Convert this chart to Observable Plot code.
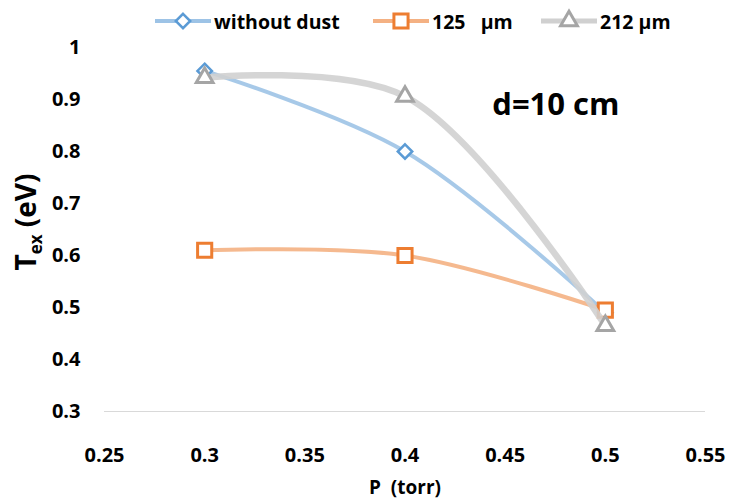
<!DOCTYPE html>
<html><head><meta charset="utf-8">
<script src="https://cdn.jsdelivr.net/npm/d3@7"></script>
<script src="https://cdn.jsdelivr.net/npm/@observablehq/plot@0.6"></script>
<style>
body{margin:0;background:#fff;font-family:"Open Sans",sans-serif;}
#wrap{position:relative;width:729px;height:502px;}
#legend{position:absolute;top:7px;left:0;width:729px;height:28px;font-weight:bold;font-size:19.5px;color:#000;}
.item{position:absolute;top:0;display:flex;align-items:center;height:28px;white-space:pre;}
.item svg{margin-right:3px;}
</style></head>
<body><div id="wrap"><div id="legend"></div><div id="chart"></div></div>
<script>
const pressure = [0.3, 0.4, 0.5];
const withoutDust = [0.955, 0.80, 0.49];
const dust125 = [0.61, 0.60, 0.495];
const dust212 = [0.942, 0.906, 0.465];
const seriesNames = ["without dust", "125   µm", "212 µm"];
const xTicks = [0.25, 0.3, 0.35, 0.4, 0.45, 0.5, 0.55];
const yTicks = [0.3, 0.4, 0.5, 0.6, 0.7, 0.8, 0.9, 1];

const styles = [
  {line:"#9dc3e6", lw:4, mk:"#5b9bd5", sym:"diamond2", r:6.5, sw:2.5},
  {line:"#f4b183", lw:4, mk:"#ed7d31", sym:"square2", r:9, sw:3},
  {line:"#d0d0d0", lw:6.5, mk:"#a5a5a5", sym:"triangle2", r:8, sw:3}
];
const seriesVals = [withoutDust, dust125, dust212];
const data = seriesVals.flatMap((vals, i) => vals.map((v, j) => ({x: pressure[j], y: v, s: i})));

const marks = [Plot.ruleY([0.3], {stroke:"#d9d9d9", strokeWidth:1})];
seriesVals.forEach((vals, i) => {
  const d = data.filter(e => e.s === i);
  marks.push(Plot.line(d, {x:"x", y:"y", stroke:styles[i].line, strokeWidth:styles[i].lw, curve:"catmull-rom", strokeOpacity:0.9}));
  marks.push(Plot.dot(d, {x:"x", y:"y", symbol:() => styles[i].sym, r:styles[i].r, stroke:styles[i].mk, strokeWidth:styles[i].sw, fill:"white"}));
});
marks.push(Plot.text(["d=10 cm"], {frameAnchor:"top-right", dx:-86, dy:45, text:d=>d, fontSize:31, fontWeight:"bold", fill:"#000"}));

const chart = Plot.plot({
  width:729, height:502,
  marginTop:47, marginBottom:91, marginLeft:104, marginRight:24,
  style:{fontFamily:"'Open Sans', sans-serif", fontSize:"20px", fontWeight:"bold", color:"#000", background:"#fff"},
  x:{domain:[0.25,0.55], ticks:xTicks, tickSize:0, tickPadding:36, tickFormat:d=>String(d), label:null},
  y:{domain:[0.3,1], ticks:yTicks, tickSize:0, tickPadding:24, tickFormat:d=>String(d), label:null},
  symbol:{type:"identity"},
  marks
});
document.getElementById("chart").appendChild(chart);

const svg = d3.select(chart);
svg.append("text").attr("x",405).attr("y",494).attr("text-anchor","middle")
  .attr("font-size",19).attr("font-weight","bold").attr("fill","#000").style("white-space","pre").text("P  (torr)");
const yl = svg.append("text").attr("transform","translate(36,222) rotate(-90)").attr("text-anchor","middle")
  .attr("font-size",28).attr("font-weight","bold").attr("fill","#000").style("white-space","pre");
yl.append("tspan").text("T");
yl.append("tspan").attr("font-size",17).attr("dy",6).text("ex");
yl.append("tspan").attr("dy",-6).text(" (eV)");

// legend
const legend = d3.select("#legend");
const lx = [155, 373, 541];
seriesNames.forEach((name, i) => {
  const it = legend.append("div").attr("class","item").style("left", lx[i] + "px");
  const s = it.append("svg").attr("width",56).attr("height",28);
  s.append("line").attr("x1",0).attr("x2",56).attr("y1",14).attr("y2",14)
    .attr("stroke",styles[i].line).attr("stroke-width",i===2?5:4);
  s.append("path").attr("transform","translate(28,14)")
    .attr("d", d3.symbol(i===0?d3.symbolDiamond2:i===1?d3.symbolSquare2:d3.symbolTriangle2, Math.PI*styles[i].r*styles[i].r)())
    .attr("fill","white").attr("stroke",styles[i].mk).attr("stroke-width",styles[i].sw);
  it.append("span").text(name);
});
</script></body></html>
